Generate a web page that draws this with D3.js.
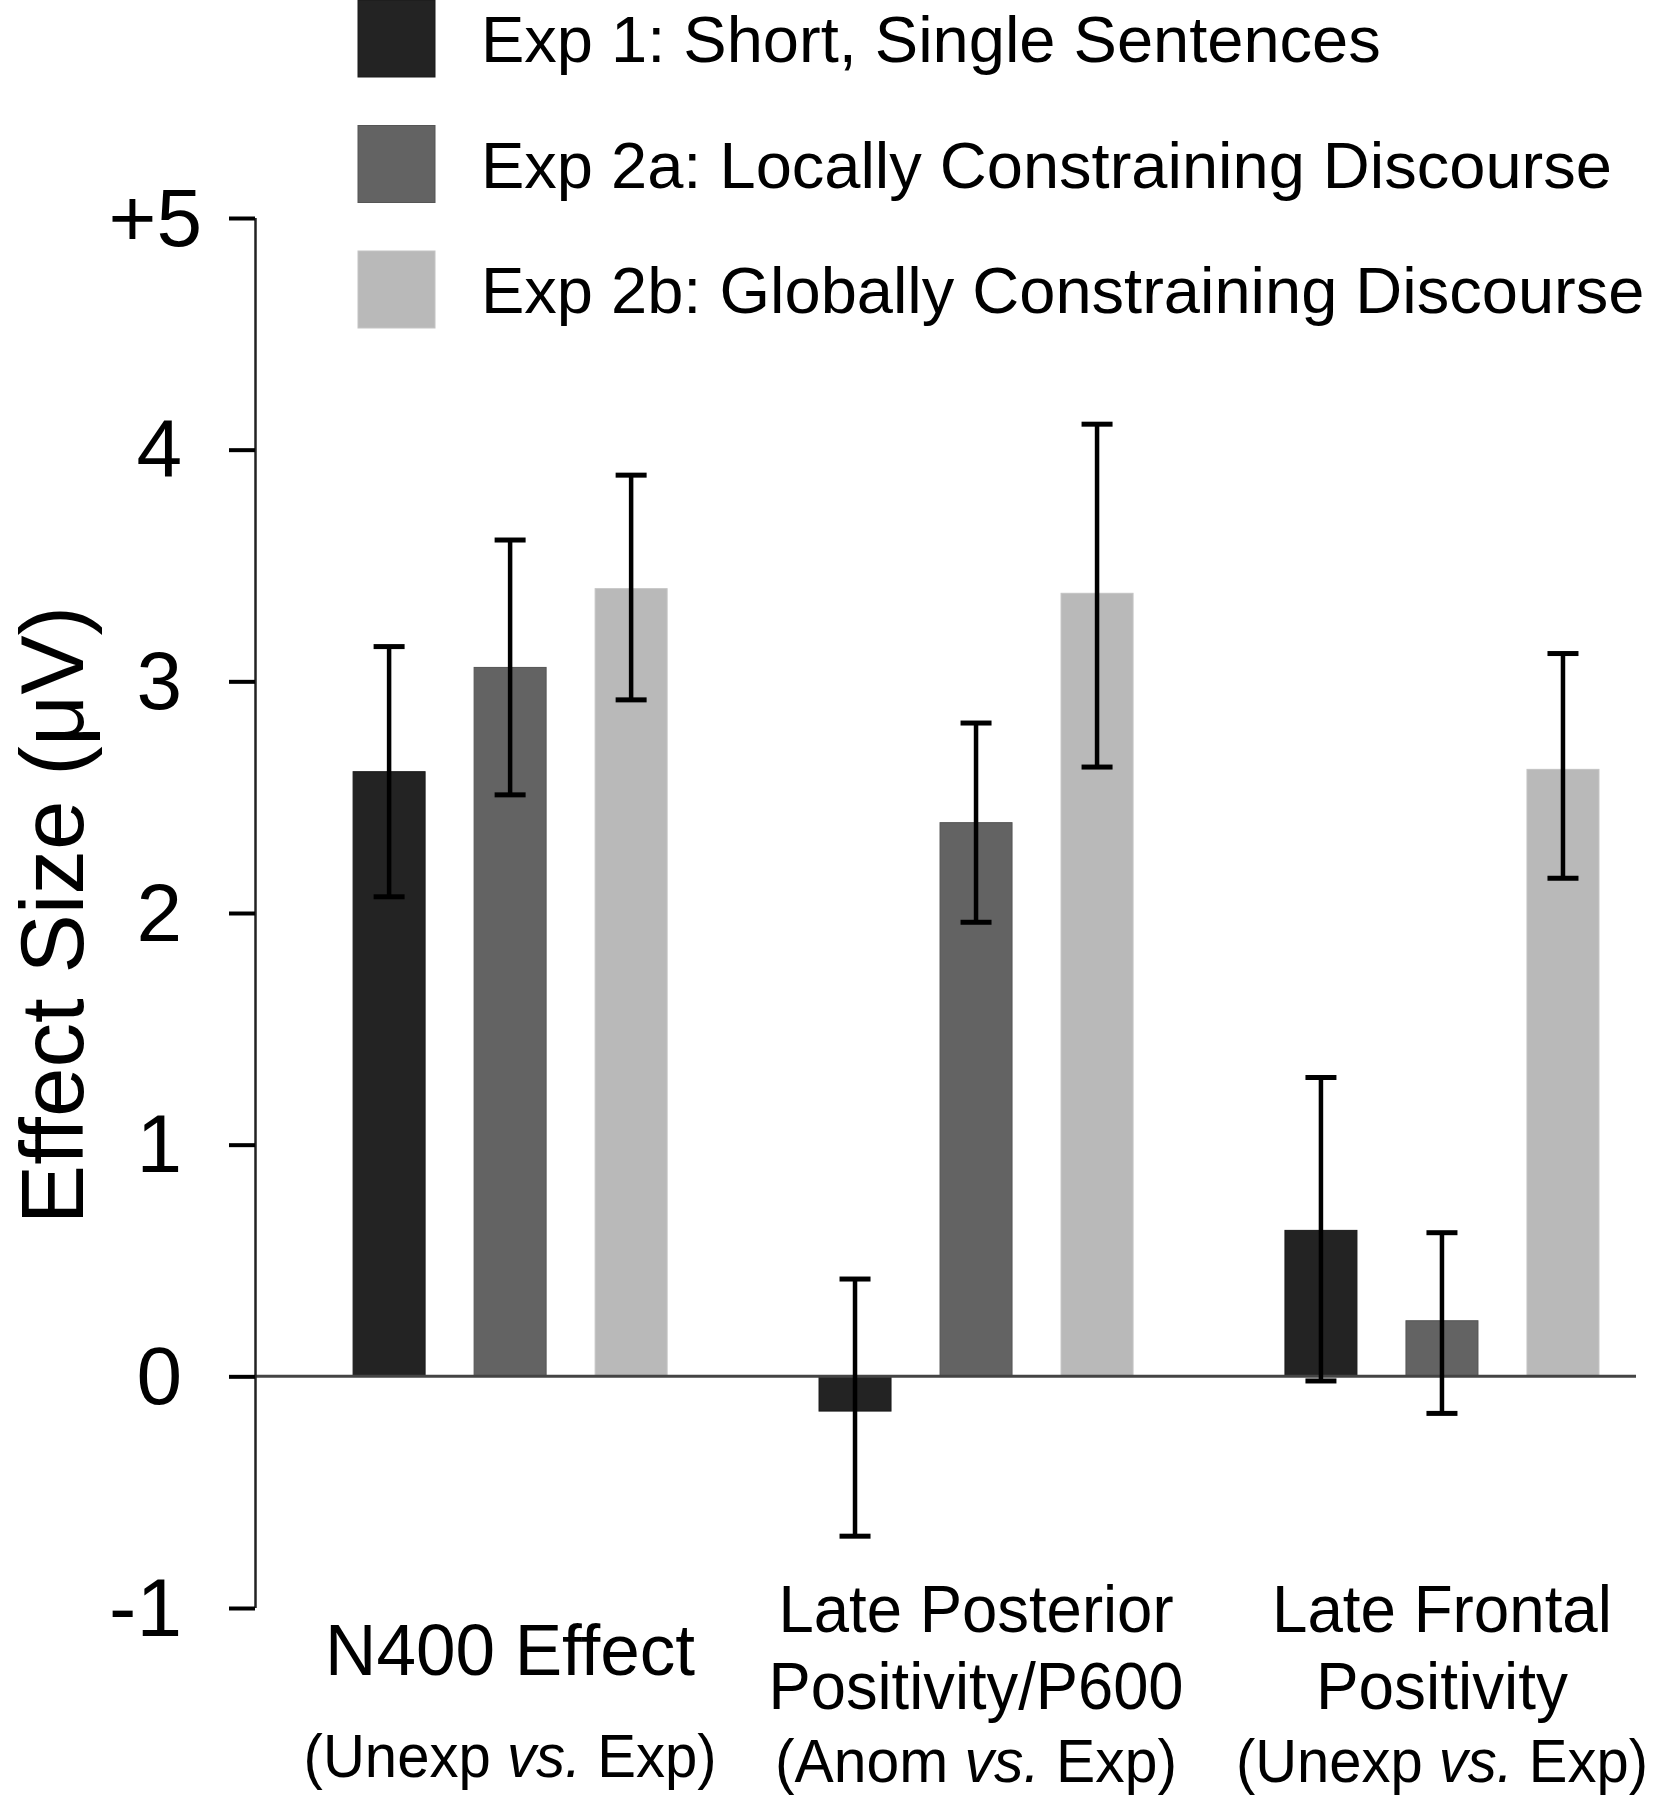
<!DOCTYPE html>
<html>
<head>
<meta charset="utf-8">
<script src="https://cdn.jsdelivr.net/npm/d3@7"></script>
<style>
  body { margin: 0; background: #fff; }
  svg { display: block; }
  text { font-family: "Liberation Sans", Arial, sans-serif; fill: #000; }
</style>
</head>
<body>
<div id="chart"></div>
<script>
// data
const categories = ['N400', 'LPP', 'LFP'];
const categoryLines = [['N400 Effect'], ['Late Posterior', 'Positivity/P600'], ['Late Frontal', 'Positivity']];
const contrasts = ['Unexp', 'Anom', 'Unexp'];
const seriesNames = ['Exp 1: Short, Single Sentences', 'Exp 2a: Locally Constraining Discourse', 'Exp 2b: Globally Constraining Discourse'];
const seriesColors = ['#232323', '#636363', '#b9b9b9'];
const seriesStroke = ['#1a1a1a', '#555555', '#c4c4c4'];
const exp1 = [2.61, -0.15, 0.63];
const exp1Lo = [2.07, -0.69, -0.02];
const exp1Hi = [3.15, 0.42, 1.29];
const exp2a = [3.06, 2.39, 0.24];
const exp2aLo = [2.51, 1.96, -0.16];
const exp2aHi = [3.61, 2.82, 0.62];
const exp2b = [3.40, 3.38, 2.62];
const exp2bLo = [2.92, 2.63, 2.15];
const exp2bHi = [3.89, 4.11, 3.12];
const yTicks = [-1, 0, 1, 2, 3, 4, 5];
const yTickLabels = ['-1', '0', '1', '2', '3', '4', '+5'];

const width = 1671, height = 1800;
const axisX = 255, plotRight = 1636;

// label widths from the picture (the original type is a little condensed)
const labelLength = {
  'N400 Effect': 370,
  'Late Posterior': 395,
  'Positivity/P600': 415,
  'Late Frontal': 340,
  'Positivity': 252,
  sub: [413, 402, 412]
};

const series = [
  {key: 'e1', vals: exp1, lo: exp1Lo, hi: exp1Hi},
  {key: 'e2a', vals: exp2a, lo: exp2aLo, hi: exp2aHi},
  {key: 'e2b', vals: exp2b, lo: exp2bLo, hi: exp2bHi}
];
series.forEach((s, i) => { s.name = seriesNames[i]; s.color = seriesColors[i]; s.stroke = seriesStroke[i]; });

const bars = [];
categories.forEach((c, ci) => {
  series.forEach(s => {
    bars.push({cat: c, key: s.key, value: s.vals[ci], lo: s.lo[ci], hi: s.hi[ci], color: s.color, stroke: s.stroke});
  });
});

const svg = d3.select('#chart').append('svg')
  .attr('width', width).attr('height', height)
  .attr('viewBox', [0, 0, width, height]);
svg.append('rect').attr('width', width).attr('height', height).attr('fill', '#fff');

const y = d3.scaleLinear().domain([-1, 5]).range([1608, 218]);
const x = d3.scaleBand().domain(categories).range([axisX, plotRight])
  .paddingInner(0.326).paddingOuter(0.145).align(0.726);
const xInner = d3.scaleBand().domain(series.map(s => s.key)).range([0, x.bandwidth()])
  .paddingInner(0.405).paddingOuter(0);

// bars
svg.append('g')
  .selectAll('rect')
  .data(bars)
  .join('rect')
  .attr('x', d => x(d.cat) + xInner(d.key))
  .attr('width', xInner.bandwidth())
  .attr('y', d => y(Math.max(0, d.value)))
  .attr('height', d => Math.abs(y(d.value) - y(0)))
  .attr('fill', d => d.color)
  .attr('stroke', d => d.stroke)
  .attr('stroke-width', 1);

// zero line
svg.append('line')
  .attr('x1', axisX).attr('x2', plotRight)
  .attr('y1', y(0)).attr('y2', y(0))
  .attr('stroke', '#444').attr('stroke-width', 3);

// error bars
const capHalf = 15.5;
const err = svg.append('g').attr('stroke', '#000');
const eb = err.selectAll('g').data(bars).join('g')
  .attr('transform', d => `translate(${x(d.cat) + xInner(d.key) + xInner.bandwidth() / 2},0)`);
eb.append('line')
  .attr('y1', d => y(d.lo)).attr('y2', d => y(d.hi))
  .attr('stroke-width', 4.5);
eb.append('line')
  .attr('x1', -capHalf).attr('x2', capHalf)
  .attr('y1', d => y(d.hi)).attr('y2', d => y(d.hi))
  .attr('stroke-width', 5);
eb.append('line')
  .attr('x1', -capHalf).attr('x2', capHalf)
  .attr('y1', d => y(d.lo)).attr('y2', d => y(d.lo))
  .attr('stroke-width', 5);

// y axis
const yAxis = svg.append('g')
  .attr('transform', `translate(${axisX},0)`)
  .call(d3.axisLeft(y).tickValues(yTicks).tickSize(26).tickPadding(49)
    .tickFormat((d, i) => yTickLabels[i]));
yAxis.select('.domain')
  .attr('stroke', '#222').attr('stroke-width', 2.5)
  .attr('d', `M0.5,${y(5)}V${y(-1)}`);
yAxis.selectAll('.tick line').attr('stroke', '#000').attr('stroke-width', 4);
yAxis.selectAll('.tick text')
  .attr('font-size', 82)
  .attr('font-family', '"Liberation Sans", Arial, sans-serif')
  .attr('fill', '#000')
  .attr('dy', '0.33em')
  .attr('dx', (d) => d === 5 ? 22 : 2);

svg.append('text')
  .attr('transform', `translate(83,${(y(-1) + y(5)) / 2 + 2}) rotate(-90)`)
  .attr('text-anchor', 'middle')
  .attr('font-size', 89)
  .text('Effect Size (μV)');

// category labels
const catG = svg.append('g').attr('text-anchor', 'middle');
categories.forEach((c, ci) => {
  const cx = x(c) + x.bandwidth() / 2;
  const lines = categoryLines[ci];
  const base = lines.length === 1 ? [1675] : [1632, 1709];
  lines.forEach((ln, li) => {
    catG.append('text')
      .attr('x', cx).attr('y', base[li])
      .attr('font-size', lines.length === 1 ? 72 : 67)
      .attr('textLength', labelLength[ln])
      .attr('lengthAdjust', 'spacingAndGlyphs')
      .text(ln);
  });
  const sub = catG.append('text')
    .attr('x', cx).attr('y', lines.length === 1 ? 1777 : 1782)
    .attr('font-size', 62)
    .attr('textLength', labelLength.sub[ci])
    .attr('lengthAdjust', 'spacingAndGlyphs');
  sub.append('tspan').text('(' + contrasts[ci] + ' ');
  sub.append('tspan').attr('font-style', 'italic').text('vs.');
  sub.append('tspan').text(' Exp)');
});

// legend
const legend = svg.append('g').attr('transform', 'translate(358,0)');
const li = legend.selectAll('g').data(series).join('g')
  .attr('transform', (d, i) => `translate(0,${i * 125.5})`);
li.append('rect')
  .attr('width', 77).attr('height', 77)
  .attr('fill', d => d.color)
  .attr('stroke', d => d.stroke).attr('stroke-width', 1);
li.append('text')
  .attr('x', 123).attr('y', 62)
  .attr('font-size', 65)
  .text(d => d.name);
</script>
</body>
</html>
